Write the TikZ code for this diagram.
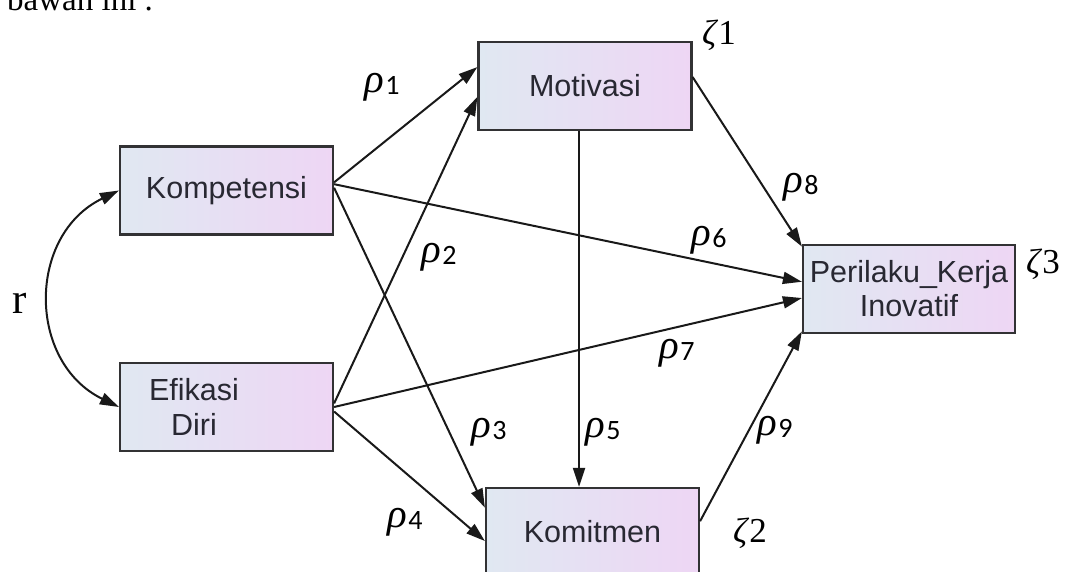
\documentclass[tikz,border=0pt]{standalone}
\usepackage{fontspec}
\setmainfont{Liberation Serif}
\newfontfamily\boxfont{Liberation Sans}
\newfontfamily\digfont{Carlito}
\usetikzlibrary{arrows.meta,calc}
\definecolor{shadeL}{RGB}{224,232,242}
\definecolor{shadeR}{RGB}{238,214,244}
\definecolor{edgeC}{RGB}{50,50,52}
\definecolor{txtC}{RGB}{40,40,50}
\newcommand\rholab[1]{\textit{ρ}\kern1.5pt{\digfont\fontsize{28}{28}\selectfont\raisebox{-2pt}{#1}}}
\newcommand\zetalab[1]{\textit{ζ}#1}
\begin{document}
\begin{tikzpicture}[x=1pt,y=-1pt,
  var/.style={draw=edgeC, line width=2.2pt, left color=shadeL, right color=shadeR,
    minimum width=213pt, minimum height=88pt, inner sep=0pt,
    font=\boxfont\fontsize{30.5}{34}\selectfont, text=txtC, align=center},
  boxtext/.style={inner sep=0pt, font=\boxfont\fontsize{30.5}{35}\selectfont, text=txtC, align=center},
  pth/.style={line width=2pt, draw=black!90, -{Triangle[length=19pt,width=12pt]}},
  dbl/.style={line width=2pt, draw=black!90, {Triangle[length=19pt,width=12pt]}-{Triangle[length=19pt,width=12pt]}},
  rho/.style={anchor=base west, inner sep=0pt, font=\fontsize{41}{43}\selectfont},
  zeta/.style={anchor=base west, inner sep=0pt, font=\fontsize{35}{37}\selectfont},
  rlab/.style={anchor=base west, inner sep=0pt, font=\fontsize{43}{45}\selectfont}]
\useasboundingbox (0,0) rectangle (1070,572);
\node[anchor=base west, inner sep=0pt, font=\fontsize{33}{35}\selectfont] (top) at (7,11) {bawah ini .};
% boxes
\node[var] (K) at (226.5,190.5) {Kompetensi};
\node[var] (E) at (226.5,407) {};
\node[boxtext] (Et) at (194,407) {Efikasi\\Diri};
\node[var] (M) at (585,86) {Motivasi};
\node[var, minimum width=212pt] (P) at (909,289) {Perilaku\_Kerja\\Inovatif};
\node[var] (C) at (592.5,532) {Komitmen};
% arrows
\draw[pth] ($(K.north east)!0.41!(K.south east)$) -- ($(M.north west)!0.29!(M.south west)$);
\draw[pth] ($(K.north east)!0.43!(K.south east)$) -- ($(P.north west)!0.42!(P.south west)$);
\draw[pth] ($(K.north east)!0.47!(K.south east)$) -- ($(C.north west)!0.23!(C.south west)$);
\draw[pth] ($(E.north east)!0.46!(E.south east)$) -- ($(M.north west)!0.62!(M.south west)$);
\draw[pth] ($(E.north east)!0.50!(E.south east)$) -- ($(P.north west)!0.60!(P.south west)$);
\draw[pth] ($(E.north east)!0.55!(E.south east)$) -- ($(C.north west)!0.60!(C.south west)$);
\draw[pth] ($(M.north east)!0.40!(M.south east)$) -- ($(P.north west)!0.03!(P.south west)$);
\draw[pth] ([xshift=-6pt]M.south) -- ([xshift=-13.5pt]C.north);
\draw[pth] ($(C.north east)!0.38!(C.south east)$) -- ($(P.north west)!0.97!(P.south west)$);
\draw[dbl] (K.west) .. controls (27,235) and (27,362) .. (E.west);
% labels
\node[rho] (r1) at (364,93) {\rholab{1}};
\node[rho] (r2) at (421,262) {\rholab{2}};
\node[rho] (r3) at (471,437) {\rholab{3}};
\node[rho] (r4) at (387,527) {\rholab{4}};
\node[rho] (r5) at (585,437) {\rholab{5}};
\node[rho] (r6) at (691,245) {\rholab{6}};
\node[rho] (r7) at (659,358) {\rholab{7}};
\node[rho] (r8) at (783,193) {\rholab{8}};
\node[rho] (r9) at (757,435) {\rholab{9}};
\node[zeta] (z1) at (702,45) {\zetalab{1}};
\node[zeta] (z2) at (733,542) {\zetalab{2}};
\node[zeta] (z3) at (1026,273) {\zetalab{3}};
\node[rlab] (rr) at (12,313) {r};
\end{tikzpicture}
\end{document}
